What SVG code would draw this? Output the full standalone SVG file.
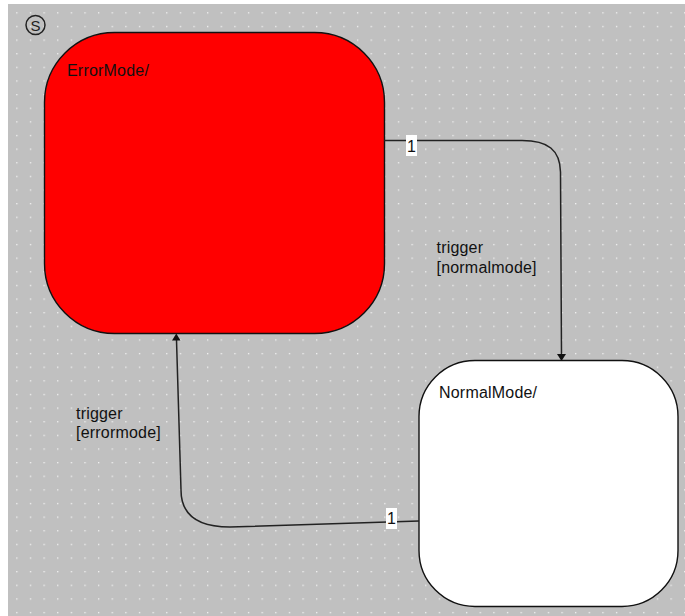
<svg xmlns="http://www.w3.org/2000/svg" width="685" height="616" viewBox="0 0 685 616">
  <style>
    .t { font-family: "Liberation Sans", Arial, sans-serif; font-size: 16px; fill: #111; letter-spacing: 0.2px; }
    .state { stroke: #111; stroke-width: 1.4; }
    .conn { fill: none; stroke: #222; stroke-width: 1.5; }
    .lblbox { fill: #ffffff; }
  </style>
  <defs>
    <pattern id="grid" patternUnits="userSpaceOnUse" x="16.2" y="12.2" width="13.63" height="13.63">
      <rect x="0" y="0" width="1.3" height="1.3" fill="#f2f2f2"/>
    </pattern>
  </defs>
  <rect x="0" y="0" width="685" height="616" fill="#ffffff"/>
  <rect x="8" y="4" width="677" height="612" fill="#c0c0c0"/>
  <rect x="8" y="4" width="677" height="612" fill="url(#grid)"/>

  <g id="start-symbol">
    <circle cx="35.5" cy="25" r="9.5" fill="none" stroke="#222" stroke-width="1.5"/>
    <text x="35.5" y="30.6" text-anchor="middle" font-family="Liberation Sans, Arial, sans-serif" font-size="15" fill="#222">S</text>
  </g>

  <g id="ErrorMode">
    <rect class="state" x="44.5" y="32.5" width="340" height="301" rx="70" ry="70" fill="#ff0000"/>
    <text class="t" x="67" y="76">ErrorMode/</text>
  </g>

  <g id="NormalMode">
    <rect class="state" x="419" y="360.5" width="259" height="246" rx="56" ry="56" fill="#ffffff"/>
    <text class="t" x="439" y="398">NormalMode/</text>
  </g>

  <g id="connectors">
    <g id="c-error-to-normal">
      <path class="conn" d="M384,140.5 L522,140.5 C548,140.5 560,150 560.5,172 L561.5,355"/>
      <polygon points="557,354 566,354 561.5,361" fill="#111"/>
      <rect class="lblbox" x="406" y="135" width="11" height="21"/>
      <text class="t" x="411.5" y="151.5" text-anchor="middle">1</text>
      <text class="t" x="436.5" y="253">trigger</text>
      <text class="t" x="436.5" y="272.5">[normalmode]</text>
    </g>
    <g id="c-normal-to-error">
      <path class="conn" d="M419,521 L230,527 Q181,527 181,490 L176.5,340"/>
      <polygon points="172,340.5 180.5,340.5 176.3,333.5" fill="#111"/>
      <rect class="lblbox" x="386" y="508" width="11" height="21"/>
      <text class="t" x="391.5" y="524" text-anchor="middle">1</text>
      <text class="t" x="76" y="418.5">trigger</text>
      <text class="t" x="76" y="437.5">[errormode]</text>
    </g>
  </g>
</svg>
